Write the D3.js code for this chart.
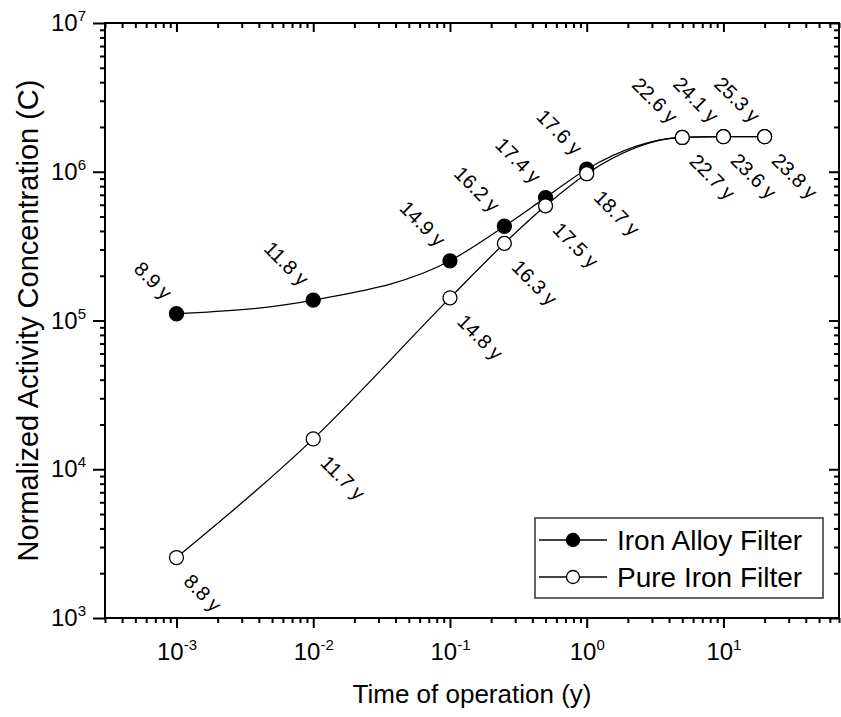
<!DOCTYPE html>
<html>
<head>
<meta charset="utf-8">
<title>Normalized Activity Concentration</title>
<script src="https://cdn.jsdelivr.net/npm/d3@7"></script>
<style>
body { margin: 0; background: #fff; }
text { font-family: "Liberation Sans", Arial, sans-serif; fill: #000; }
</style>
</head>
<body>
<script>
// time of operation (y)
var times = [0.001, 0.01, 0.1, 0.25, 0.5, 1, 5, 10, 20];

// iron alloy filter (the last three sit under the pure iron markers)
var alloyValues = [1.11e5, 1.37e5, 2.52e5, 4.3e5, 6.7e5, 1.04e6, 1.7e6, 1.72e6, 1.72e6];
var alloyLabels = ["8.9 y", "11.8 y", "14.9 y", "16.2 y", "17.4 y", "17.6 y", "22.6 y", "24.1 y", "25.3 y"];

// pure iron filter
var pureValues = [2.55e3, 1.6e4, 1.42e5, 3.3e5, 5.9e5, 9.7e5, 1.7e6, 1.72e6, 1.72e6];
var pureLabels = ["8.8 y", "11.7 y", "14.8 y", "16.3 y", "17.5 y", "18.7 y", "22.7 y", "23.6 y", "23.8 y"];

var xMajor = [-3, -2, -1, 0, 1];
var yMajor = [3, 4, 5, 6, 7];
var seriesNames = ["Iron Alloy Filter", "Pure Iron Filter"];

var W = 841, H = 717;
var pL = 105, pR = 839, pT = 23, pB = 618;

var svg = d3.select("body").append("svg")
  .attr("width", W).attr("height", H);

var x = d3.scaleLog().domain([3e-4, 70]).range([pL, pR]);
var y = d3.scaleLog().domain([1e3, 1e7]).range([pB, pT]);

function minors(lo, hi) {
  var out = [];
  for (var e = lo; e <= hi; e++) {
    for (var k = 2; k <= 9; k++) out.push(k * Math.pow(10, e));
  }
  return out;
}
var xMinor = minors(-4, 1).filter(function(v){ return v >= 3e-4 && v <= 70; });
var yMinor = minors(3, 6);
var xMaj = xMajor.map(function(e){ return Math.pow(10, e); });
var yMaj = yMajor.map(function(e){ return Math.pow(10, e); });

function styleAxis(g) {
  g.select(".domain").remove();
  g.selectAll("line").attr("stroke", "#000").attr("stroke-width", 2);
}

function supLabels(g) {
  g.selectAll(".tick text").each(function(d) {
    var t = d3.select(this);
    var e = Math.round(Math.log10(d));
    t.text(null).attr("font-size", 24);
    t.append("tspan").text("10");
    t.append("tspan").attr("font-size", 15).attr("dy", -10).text(e);
  });
}

// bottom
svg.append("g").attr("transform", "translate(0," + pB + ")")
  .call(d3.axisBottom(x).tickValues(xMinor).tickSize(5).tickFormat(""))
  .call(styleAxis);
svg.append("g").attr("transform", "translate(0," + pB + ")")
  .call(d3.axisBottom(x).tickValues(xMaj).tickSize(10).tickPadding(15))
  .call(styleAxis)
  .call(supLabels);

// left
svg.append("g").attr("transform", "translate(" + pL + ",0)")
  .call(d3.axisLeft(y).tickValues(yMinor).tickSize(5).tickFormat(""))
  .call(styleAxis);
svg.append("g").attr("transform", "translate(" + pL + ",0)")
  .call(d3.axisLeft(y).tickValues(yMaj).tickSize(12).tickPadding(7))
  .call(styleAxis)
  .call(supLabels);

// top and right, ticks inward
svg.append("g").attr("transform", "translate(0," + pT + ")")
  .call(d3.axisTop(x).tickValues(xMinor).tickSize(-5).tickFormat(""))
  .call(styleAxis);
svg.append("g").attr("transform", "translate(0," + pT + ")")
  .call(d3.axisTop(x).tickValues(xMaj).tickSize(-9).tickFormat(""))
  .call(styleAxis);
svg.append("g").attr("transform", "translate(" + pR + ",0)")
  .call(d3.axisRight(y).tickValues(yMinor).tickSize(-5).tickFormat(""))
  .call(styleAxis);
svg.append("g").attr("transform", "translate(" + pR + ",0)")
  .call(d3.axisRight(y).tickValues(yMaj).tickSize(-10).tickFormat(""))
  .call(styleAxis);

// frame
svg.append("rect")
  .attr("x", pL).attr("y", pT)
  .attr("width", pR - pL).attr("height", pB - pT)
  .attr("fill", "none").attr("stroke", "#000").attr("stroke-width", 2);

// axis titles
svg.append("text")
  .attr("x", (pL + pR) / 2).attr("y", 703)
  .attr("text-anchor", "middle").attr("font-size", 26)
  .text("Time of operation (y)");
svg.append("text")
  .attr("transform", "translate(38," + ((pT + pB) / 2) + ") rotate(-90)")
  .attr("text-anchor", "middle").attr("font-size", 29)
  .text("Normalized Activity Concentration (C)");

// data
var alloy = times.map(function(t, i){ return {t: t, v: alloyValues[i], label: alloyLabels[i]}; });
var pure = times.map(function(t, i){ return {t: t, v: pureValues[i], label: pureLabels[i]}; });

var line = d3.line()
  .x(function(d){ return x(d.t); })
  .y(function(d){ return y(d.v); })
  .curve(d3.curveMonotoneX);

svg.append("path").datum(alloy).attr("d", line)
  .attr("fill", "none").attr("stroke", "#000").attr("stroke-width", 1.3);
svg.append("path").datum(pure).attr("d", line)
  .attr("fill", "none").attr("stroke", "#000").attr("stroke-width", 1.3);

svg.selectAll(".alloy").data(alloy).enter().append("circle")
  .attr("class", "alloy")
  .attr("cx", function(d){ return x(d.t); })
  .attr("cy", function(d){ return y(d.v); })
  .attr("r", 7).attr("fill", "#000").attr("stroke", "#000").attr("stroke-width", 1.3);
svg.selectAll(".pure").data(pure).enter().append("circle")
  .attr("class", "pure")
  .attr("cx", function(d){ return x(d.t); })
  .attr("cy", function(d){ return y(d.v); })
  .attr("r", 7).attr("fill", "#fff").attr("stroke", "#000").attr("stroke-width", 1.3);

// rotated labels: alloy above-left, pure below-right
svg.selectAll(".alab").data(alloy).enter().append("text")
  .attr("transform", function(d){ return "translate(" + (x(d.t) - 13) + "," + (y(d.v) - 13) + ") rotate(45)"; })
  .attr("text-anchor", "end").attr("font-size", 20)
  .text(function(d){ return d.label; });
svg.selectAll(".plab").data(pure).enter().append("text")
  .attr("transform", function(d){ return "translate(" + (x(d.t) + 6) + "," + (y(d.v) + 25) + ") rotate(45)"; })
  .attr("text-anchor", "start").attr("font-size", 20)
  .text(function(d){ return d.label; });

// legend
var lg = svg.append("g");
lg.append("rect").attr("x", 535).attr("y", 518).attr("width", 288).attr("height", 80)
  .attr("fill", "#fff").attr("stroke", "#333").attr("stroke-width", 1.5);
seriesNames.forEach(function(name, i) {
  var ly = 540 + i * 37;
  lg.append("line").attr("x1", 539).attr("x2", 607).attr("y1", ly).attr("y2", ly)
    .attr("stroke", "#000").attr("stroke-width", 1.3);
  lg.append("circle").attr("cx", 573).attr("cy", ly).attr("r", 6.5)
    .attr("fill", i === 0 ? "#000" : "#fff").attr("stroke", "#000").attr("stroke-width", 1.3);
  lg.append("text").attr("x", 617).attr("y", ly).attr("dy", "0.36em")
    .attr("font-size", 28).text(name);
});
</script>
</body>
</html>
